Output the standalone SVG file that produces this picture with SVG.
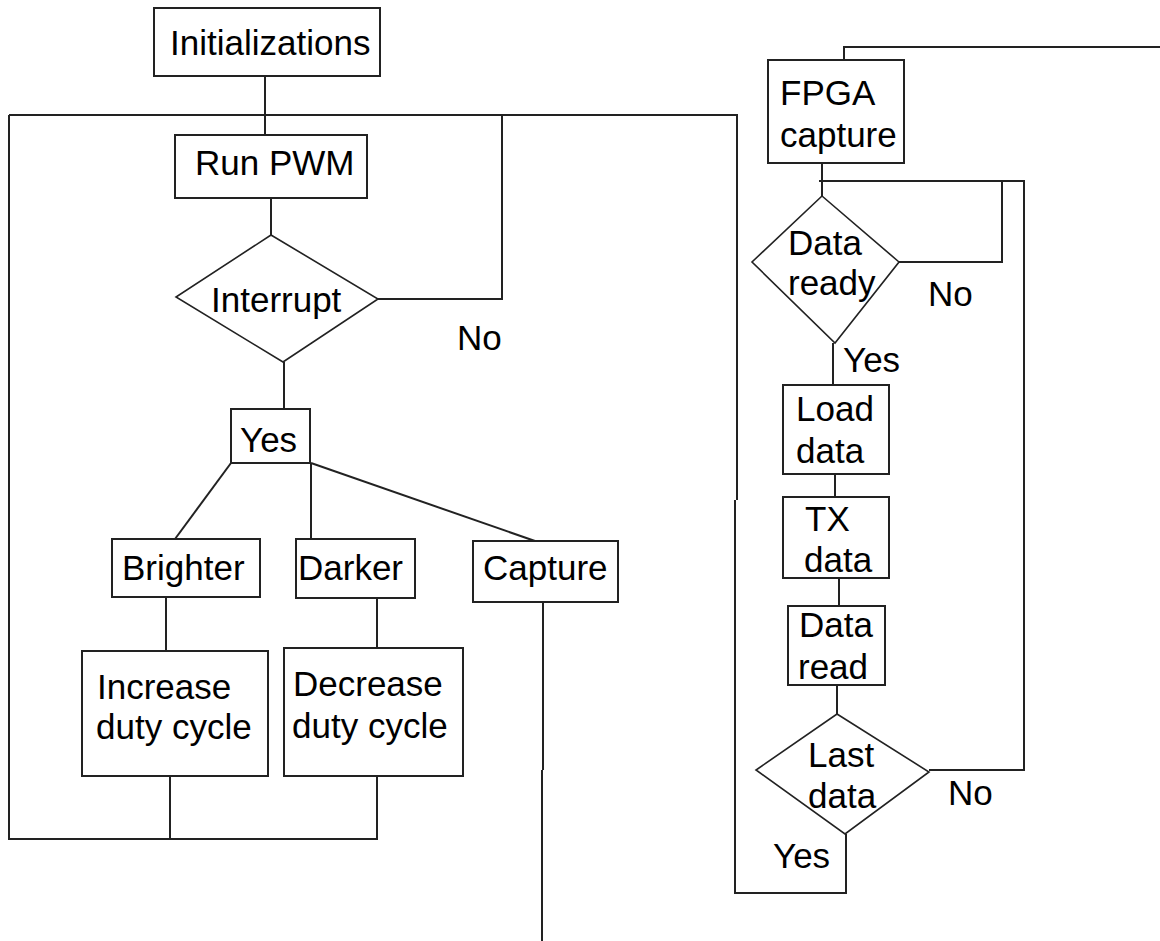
<svg xmlns="http://www.w3.org/2000/svg" width="1160" height="941" viewBox="0 0 1160 941">
<style>
.box{fill:#fff;stroke:#222;stroke-width:2}
.dia{fill:#fff;stroke:#222;stroke-width:1.6}
.ln{fill:none;stroke:#222;stroke-width:2}
text{font-family:"Liberation Sans",Arial,sans-serif;font-size:35px;fill:#000}
</style>
<rect width="1160" height="941" fill="#fff"/>
<g id="connectors">
<path class="ln" d="M265,76 V135"/>
<path class="ln" d="M9,115 H737 V500 M735,500 V893 H846 V834"/>
<path class="ln" d="M9,115 V839 H377 V776"/>
<path class="ln" d="M170,776 V839"/>
<path class="ln" d="M271,198 V235"/>
<path class="ln" d="M378,299 H502 V115"/>
<path class="ln" d="M284,362 V409"/>
<path class="ln" d="M231,463 L175,539"/>
<path class="ln" d="M311,463 V539"/>
<path class="ln" d="M311,463 L535,541"/>
<path class="ln" d="M166,597 V651"/>
<path class="ln" d="M377,598 V648"/>
<path class="ln" d="M543,602 V770 M542,770 V941"/>
<path class="ln" d="M1160,47 H844 V60"/>
<path class="ln" d="M822,163 V196"/>
<path class="ln" d="M819,181 H1024 V770 H929"/>
<path class="ln" d="M1002,181 V262 H899"/>
<path class="ln" d="M833,343 V385"/>
<path class="ln" d="M835,474 V497"/>
<path class="ln" d="M839,578 V606"/>
<path class="ln" d="M837,685 V714"/>
</g>
<g id="initializations"><rect class="box" x="154" y="8" width="226" height="68"/><text x="170" y="55">Initializations</text></g>
<g id="run-pwm"><rect class="box" x="175" y="135" width="192" height="63"/><text x="195" y="175">Run PWM</text></g>
<g id="interrupt"><polygon class="dia" points="271,235 378,299 283,362 176,297"/><text x="211" y="312">Interrupt</text></g>
<g id="no-interrupt"><text x="457" y="350">No</text></g>
<g id="yes"><rect class="box" x="231" y="409" width="79" height="54"/><text x="240" y="452">Yes</text></g>
<g id="brighter"><rect class="box" x="112" y="539" width="148" height="58"/><text x="122" y="580">Brighter</text></g>
<g id="darker"><rect class="box" x="296" y="539" width="119" height="59"/><text x="298" y="580">Darker</text></g>
<g id="capture"><rect class="box" x="473" y="541" width="145" height="61"/><text x="483" y="580">Capture</text></g>
<g id="increase"><rect class="box" x="82" y="651" width="186" height="125"/><text x="97" y="699">Increase</text><text x="96" y="739">duty cycle</text></g>
<g id="decrease"><rect class="box" x="284" y="648" width="179" height="128"/><text x="293" y="696">Decrease</text><text x="292" y="738">duty cycle</text></g>
<g id="fpga-capture"><rect class="box" x="768" y="60" width="136" height="103"/><text x="780" y="105">FPGA</text><text x="780" y="147">capture</text></g>
<g id="data-ready"><polygon class="dia" points="822,196 899,262 835,343 752,262"/><text x="788" y="255">Data</text><text x="788" y="295">ready</text></g>
<g id="no-ready"><text x="928" y="306">No</text></g>
<g id="yes-ready"><text x="843" y="372">Yes</text></g>
<g id="load-data"><rect class="box" x="783" y="385" width="106" height="89"/><text x="796" y="421">Load</text><text x="796" y="463">data</text></g>
<g id="tx-data"><rect class="box" x="783" y="497" width="106" height="81"/><text x="805" y="531">TX</text><text x="804" y="572">data</text></g>
<g id="data-read"><rect class="box" x="788" y="606" width="97" height="79"/><text x="799" y="637">Data</text><text x="798" y="679">read</text></g>
<g id="last-data"><polygon class="dia" points="837,714 929,772 845,834 756,770"/><text x="808" y="767">Last</text><text x="808" y="808">data</text></g>
<g id="no-last"><text x="948" y="805">No</text></g>
<g id="yes-last"><text x="773" y="868">Yes</text></g>
</svg>
